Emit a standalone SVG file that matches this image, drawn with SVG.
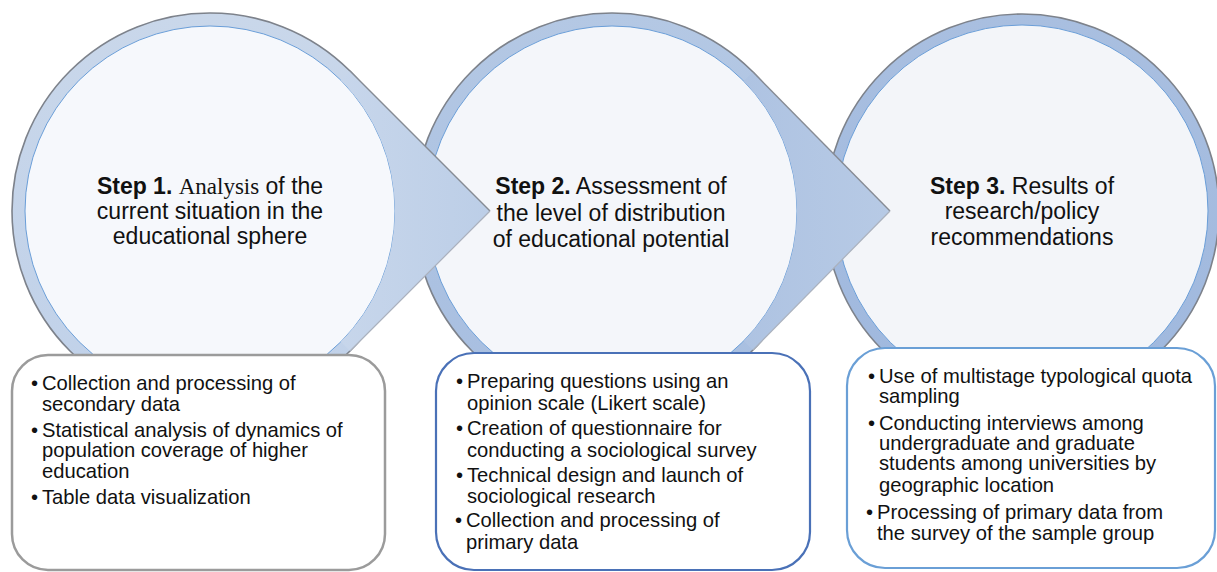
<svg xmlns="http://www.w3.org/2000/svg" width="1217" height="572" viewBox="0 0 1217 572">
<defs>
<style>
.ring{stroke:#7d828b;stroke-width:1.6}
.inner{stroke:#6a9ed8;stroke-width:1}
.step{font-family:"Liberation Sans",Arial,sans-serif;font-size:23px;fill:#111;text-anchor:middle}
.b{font-weight:bold}
.serif{font-family:"Liberation Serif","Times New Roman",serif}
.item{font-family:"Liberation Sans",Arial,sans-serif;font-size:20.2px;fill:#111}
.box{fill:#ffffff}
.edgeTop{fill:none;stroke:#868b94;stroke-width:1.4}
.edgeBot{fill:none;stroke:#aab1bd;stroke-width:1.2}
</style>
<linearGradient id="ring1" x1="0" y1="0" x2="0" y2="1">
<stop offset="0" stop-color="#c9d7ea"/><stop offset="1" stop-color="#c0d1e9"/>
</linearGradient>
<linearGradient id="ring2" x1="0" y1="0" x2="0" y2="1">
<stop offset="0" stop-color="#b4c8e4"/><stop offset="1" stop-color="#a7bee0"/>
</linearGradient>
<linearGradient id="ring3" x1="0" y1="0" x2="0" y2="1">
<stop offset="0" stop-color="#a9bfe0"/><stop offset="1" stop-color="#9fb8de"/>
</linearGradient>
<linearGradient id="arr1" x1="0" y1="0" x2="1" y2="0">
<stop offset="0" stop-color="#c7d6eb"/><stop offset="1" stop-color="#bccee7"/>
</linearGradient>
<linearGradient id="arr2" x1="0" y1="0" x2="1" y2="0">
<stop offset="0" stop-color="#aec3e2"/><stop offset="1" stop-color="#b7cae5"/>
</linearGradient>
</defs>
<rect width="1217" height="572" fill="#ffffff"/>

<g id="step3">
<circle class="ring" cx="1022" cy="211" r="197" fill="url(#ring3)"/>
<circle class="inner" cx="1022" cy="211" r="186" fill="#f3f5f9"/>
<text class="step"><tspan x="1022" y="194"><tspan class="b">Step 3.</tspan> Results of</tspan><tspan x="1022" y="219">research/policy</tspan><tspan x="1022" y="245">recommendations</tspan></text>
</g>

<g id="step2">
<circle class="ring" cx="612" cy="211" r="198" fill="url(#ring2)"/>
<circle class="inner" cx="612" cy="211" r="185" fill="#f4f6fa"/>
<text class="step"><tspan x="611" y="194"><tspan class="b">Step 2.</tspan> Assessment of</tspan><tspan x="611" y="221">the level of distribution</tspan><tspan x="611" y="247">of educational potential</tspan></text>
</g>

<g id="step1">
<circle class="ring" cx="210" cy="211" r="198" fill="url(#ring1)"/>
<circle class="inner" cx="210" cy="211" r="185" fill="#f6f8fc"/>
<text class="step"><tspan x="210" y="194"><tspan class="b">Step 1.</tspan> <tspan class="serif">Analysis</tspan> of the</tspan><tspan x="210" y="219">current situation in the</tspan><tspan x="210" y="244">educational sphere</tspan></text>
</g>

<g id="connectors">
<g id="arrow1">
<path d="M350,71 L490,211 L350,351 L340.8,341.8 A185,185 0 0 0 340.8,80.2 Z" fill="url(#arr1)"/>
<path class="edgeTop" d="M350,71 L490,211"/>
<path class="edgeBot" d="M490,211 L350,351"/>
</g>
<g id="arrow2">
<path d="M753,72 L890,211 L753,350 L743.7,340.9 A185,185 0 0 0 743.7,81.1 Z" fill="url(#arr2)"/>
<path class="edgeTop" d="M753,72 L890,211"/>
<path class="edgeBot" d="M890,211 L753,350"/>
</g>
</g>

<g id="details1">
<rect class="box" x="12" y="355" width="373" height="215" rx="36" ry="36" stroke="#9b9b9b" stroke-width="2.5"/>
<text class="item"><tspan x="31" y="390">•</tspan><tspan x="42" y="390">Collection and processing of</tspan><tspan x="42" y="411">secondary data</tspan><tspan x="31" y="437">•</tspan><tspan x="42" y="437">Statistical analysis of dynamics of</tspan><tspan x="42" y="457">population coverage of higher</tspan><tspan x="42" y="478">education</tspan><tspan x="31" y="504">•</tspan><tspan x="42" y="504">Table data visualization</tspan></text>
</g>

<g id="details2">
<rect class="box" x="436" y="353" width="374" height="217" rx="38" ry="38" stroke="#4a71b7" stroke-width="2.2"/>
<text class="item"><tspan x="456" y="388">•</tspan><tspan x="467" y="388">Preparing questions using an</tspan><tspan x="467" y="410">opinion scale (Likert scale)</tspan><tspan x="456" y="435">•</tspan><tspan x="467" y="435">Creation of questionnaire for</tspan><tspan x="467" y="457">conducting a sociological survey</tspan><tspan x="456" y="482">•</tspan><tspan x="467" y="482">Technical design and launch of</tspan><tspan x="467" y="503">sociological research</tspan><tspan x="455" y="527">•</tspan><tspan x="466" y="527">Collection and processing of</tspan><tspan x="466" y="549">primary data</tspan></text>
</g>

<g id="details3">
<rect class="box" x="847" y="348" width="368" height="220" rx="38" ry="38" stroke="#6a9fd6" stroke-width="2.2"/>
<text class="item"><tspan x="868" y="383">•</tspan><tspan x="879" y="383">Use of multistage typological quota</tspan><tspan x="879" y="403">sampling</tspan><tspan x="868" y="430">•</tspan><tspan x="879" y="430">Conducting interviews among</tspan><tspan x="879" y="450">undergraduate and graduate</tspan><tspan x="879" y="470">students among universities by</tspan><tspan x="879" y="492">geographic location</tspan><tspan x="866" y="519">•</tspan><tspan x="877" y="519">Processing of primary data from</tspan><tspan x="877" y="540">the survey of the sample group</tspan></text>
</g>
</svg>
